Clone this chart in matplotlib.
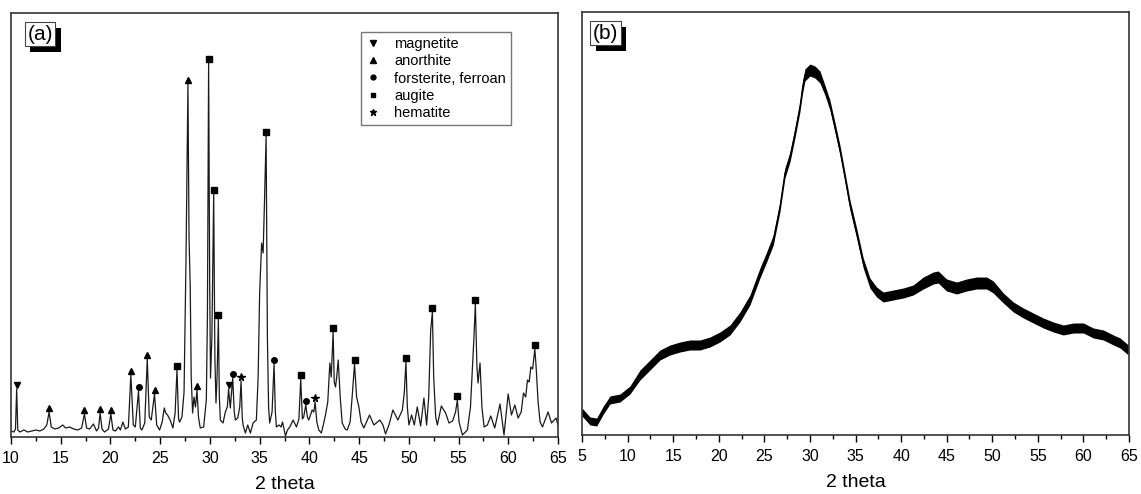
import numpy as np
import matplotlib.pyplot as plt
from matplotlib.lines import Line2D
from matplotlib import patheffects
from matplotlib.ticker import MultipleLocator

plt.rcParams['font.family'] = ['Liberation Sans', 'DejaVu Sans']

# (a) crystalline pattern (2 theta, intensity a.u.)
a_theta = [10.0, 10.3, 10.45, 10.57, 10.68, 10.9, 11.3, 11.7, 12.1, 12.5, 12.9, 13.3, 13.6, 13.83,
           14.05, 14.4, 14.8, 15.2, 15.5, 15.9, 16.3, 16.7, 17.1, 17.38, 17.6, 17.9, 18.29, 18.6,
           18.8, 18.96, 19.15, 19.4, 19.8, 20.04, 20.25, 20.5, 20.81, 21.0, 21.25, 21.5, 21.8,
           22.05, 22.3, 22.5, 22.82, 23.0, 23.16, 23.45, 23.7, 23.9, 24.1, 24.43, 24.65, 24.94,
           25.2, 25.41, 25.55, 25.74, 26.0, 26.28, 26.5, 26.69, 26.85, 26.95, 27.19, 27.4, 27.6,
           27.79, 27.9, 28.02, 28.12, 28.26, 28.4, 28.55, 28.7, 28.85, 29.03, 29.37, 29.64, 29.75,
           29.87, 29.98, 30.06, 30.2, 30.38, 30.5, 30.61, 30.72, 30.85, 30.95, 31.05, 31.32, 31.55,
           31.75, 31.88, 32.05, 32.29, 32.45, 32.56, 32.8, 33.0, 33.13, 33.25, 33.33, 33.57, 33.8,
           34.07, 34.34, 34.67, 34.85, 35.0, 35.2, 35.35, 35.5, 35.65, 35.78, 35.9, 36.01, 36.25,
           36.45, 36.58, 36.69, 36.95, 37.16, 37.3, 37.6, 37.8, 38.03, 38.37, 38.7, 38.95, 39.13,
           39.3, 39.43, 39.64, 39.8, 39.94, 40.28, 40.45, 40.58, 40.75, 40.95, 41.2, 41.4, 41.62,
           41.85, 42.06, 42.2, 42.39, 42.5, 42.63, 42.75, 42.9, 43.1, 43.3, 43.6, 43.8, 44.1, 44.3,
           44.54, 44.75, 44.98, 45.2, 45.48, 46.05, 46.49, 47.09, 47.4, 47.66, 48.0, 48.4, 48.9,
           49.35, 49.55, 49.71, 49.85, 50.01, 50.28, 50.55, 50.85, 51.19, 51.52, 51.79, 52.0, 52.2,
           52.37, 52.5, 52.7, 52.87, 53.27, 53.7, 54.04, 54.4, 54.7, 54.88, 55.05, 55.39, 55.89,
           56.2, 56.39, 56.55, 56.69, 56.85, 56.96, 57.16, 57.35, 57.57, 57.9, 58.24, 58.64, 59.17,
           59.57, 59.99, 60.32, 60.66, 60.99, 61.3, 61.53, 61.75, 61.93, 62.1, 62.27, 62.45, 62.67,
           62.8, 63.0, 63.2, 63.44, 64.0, 64.35, 64.8, 65.0]
a_int = [6, 5, 8, 48, 7, 5, 7, 5, 6, 7, 6, 8, 12, 25,
         10, 8, 9, 12, 9, 10, 8, 7, 9, 23, 9, 8, 13, 6,
         9, 24, 8, 5, 8, 23, 7, 6, 10, 7, 15, 8, 10,
         62, 12, 10, 46, 9, 7, 14, 78, 20, 17, 43, 12, 7,
         15, 29, 24, 22, 17, 9, 24, 67, 18, 15, 20, 45, 180,
         353, 200, 150, 60, 24, 40, 30, 47, 20, 9, 10, 37, 120,
         374, 150, 59, 100, 243, 80, 34, 60, 118, 40, 17, 14, 25,
         30, 48, 29, 59, 25, 17, 19, 30, 56, 20, 12, 4, 12,
         4, 14, 17, 60, 144, 194, 184, 240, 301, 100, 30, 14, 25,
         73, 25, 10, 12, 10, 15, 1, 7, 10, 17, 10, 18, 58,
         18, 20, 32, 20, 17, 27, 25, 35, 15, 7, 4, 12, 22,
         35, 74, 60, 105, 55, 50, 60, 77, 40, 14, 8, 7, 15, 40,
         73, 40, 30, 15, 9, 22, 12, 17, 12, 3, 12, 27, 17,
         27, 45, 75, 30, 12, 22, 12, 30, 11, 39, 12, 40, 107,
         125, 60, 20, 12, 31, 24, 14, 16, 25, 37, 15, 2, 7,
         30, 67, 100, 133, 70, 54, 74, 30, 10, 12, 21, 9, 33,
         2, 43, 22, 32, 19, 25, 44, 40, 57, 55, 70, 68, 88,
         70, 35, 15, 10, 25, 14, 19, 12]

# peak assignments (2 theta)
magnetite = [10.57, 31.88]
anorthite = [13.83, 17.38, 18.96, 20.04, 22.05, 23.7, 24.43, 27.79, 28.7]
forsterite = [22.82, 32.29, 36.45, 39.64]
augite = [26.69, 29.87, 30.38, 30.85, 35.65, 39.13, 42.39, 44.54, 49.71, 52.37, 54.88, 56.69, 62.67]
hematite = [33.13, 40.58]

# (b) amorphous pattern: middle of the noisy trace and half-width of the band
b_theta = [5.0, 5.88, 6.61, 7.34, 8.07, 9.17, 10.26, 11.36, 12.46, 13.55, 14.65, 15.75, 16.84,
           17.94, 19.04, 20.13, 21.23, 22.32, 23.42, 24.52, 25.25, 25.98, 26.71, 27.26, 27.81,
           28.36, 28.9, 29.2, 29.45, 30.0, 30.55, 31.1, 31.64, 32.19, 32.74, 33.29, 33.84, 34.39,
           35.12, 35.85, 36.58, 37.31, 38.04, 39.14, 40.24, 41.33, 42.43, 43.53, 44.07, 44.99,
           46.09, 47.19, 48.29, 49.38, 50.11, 51.21, 52.31, 53.41, 54.5, 55.6, 56.7, 57.8, 58.9,
           60.0, 61.09, 62.19, 63.29, 64.02, 64.93]
b_int = [23, 14, 13, 25, 35, 37, 45, 60, 70, 80, 85, 88, 90,
         90, 93, 98, 105, 118, 135, 162, 178, 195, 228, 262, 278,
         302, 328, 348, 360, 365, 363, 358, 345, 330, 308, 285, 258, 230,
         202, 172, 152, 143, 138, 140, 142, 145, 152, 157, 158, 150,
         147, 150, 152, 152, 148, 137, 128, 122, 117, 112, 108, 105, 107,
         107, 102, 100, 95, 92, 85]
b_half = [4, 4, 4, 4, 4, 4, 4, 5, 5, 5, 5, 5, 5,
          5, 5, 5, 5, 5, 5, 5, 5, 5, 5, 5, 5,
          5, 5, 6, 6, 6, 6, 6, 5, 5, 5, 5, 5, 5,
          5, 5, 5, 5, 5, 5, 5, 5, 6, 6, 6, 6,
          6, 6, 6, 6, 6, 5, 5, 5, 5, 5, 5, 5, 5,
          5, 5, 5, 5, 5, 5]

fig = plt.figure(figsize=(11.41, 4.94), dpi=100)
ax1 = fig.add_axes([11 / 1141, 57 / 494, 547 / 1141, 424 / 494])
ax2 = fig.add_axes([582 / 1141, 59 / 494, 547 / 1141, 423 / 494])

ax1.plot(a_theta, a_int, color='#1a1a1a', lw=0.9)

phases = [('magnetite', magnetite, 'v', 4.5),
          ('anorthite', anorthite, '^', 4.5),
          ('forsterite, ferroan', forsterite, 'o', 4),
          ('augite', augite, 's', 3.8),
          ('hematite', hematite, '*', 5.5)]
handles = []
for name, pos, m, ms in phases:
    h = np.interp(pos, a_theta, a_int) + 4
    ax1.plot(pos, h, linestyle='None', marker=m, color='k', markersize=ms)
    handles.append(Line2D([], [], linestyle='None', marker=m, color='k', markersize=ms - 0.5, label=name))

leg = ax1.legend(handles=handles, loc='upper left', bbox_to_anchor=(0.64, 0.955), borderaxespad=0,
                 fontsize=10.5, frameon=True, fancybox=False, labelspacing=0.22,
                 handlelength=1.0, handletextpad=0.9, borderpad=0.35)
leg.get_frame().set_edgecolor('#555555')
leg.get_frame().set_linewidth(1.0)

ax2.fill_between(b_theta, np.array(b_int) - np.array(b_half), np.array(b_int) + np.array(b_half),
                 color='k', lw=0)
ax2.plot(b_theta, b_int, color='k', lw=0.8)

for ax, lo, top, tag, tx in [(ax1, 10, 424, '(a)', 0.03), (ax2, 5, 423, '(b)', 0.02)]:
    ax.set_xlim(lo, 65)
    ax.set_ylim(0, top)
    ax.set_yticks([])
    ax.xaxis.set_major_locator(MultipleLocator(5))
    ax.xaxis.set_minor_locator(MultipleLocator(2.5))
    ax.tick_params(axis='x', which='major', direction='out', length=5, width=1, labelsize=11.5, pad=5)
    ax.tick_params(axis='x', which='minor', direction='out', length=3, width=1)
    for s in ax.spines.values():
        s.set_linewidth(1.2)
        s.set_color('#333333')
    ax.set_xlabel('2 theta', fontsize=14, labelpad=7)
    t = ax.text(tx, 0.972, tag, transform=ax.transAxes, fontsize=15, ha='left', va='top',
                bbox=dict(boxstyle='square,pad=0.12', fc='white', ec='#444444', lw=0.8))
    t.get_bbox_patch().set_path_effects([
        patheffects.SimplePatchShadow(offset=(4, -4), shadow_rgbFace='black', alpha=1.0),
        patheffects.Normal()])

fig.savefig('out.png', dpi=100)
